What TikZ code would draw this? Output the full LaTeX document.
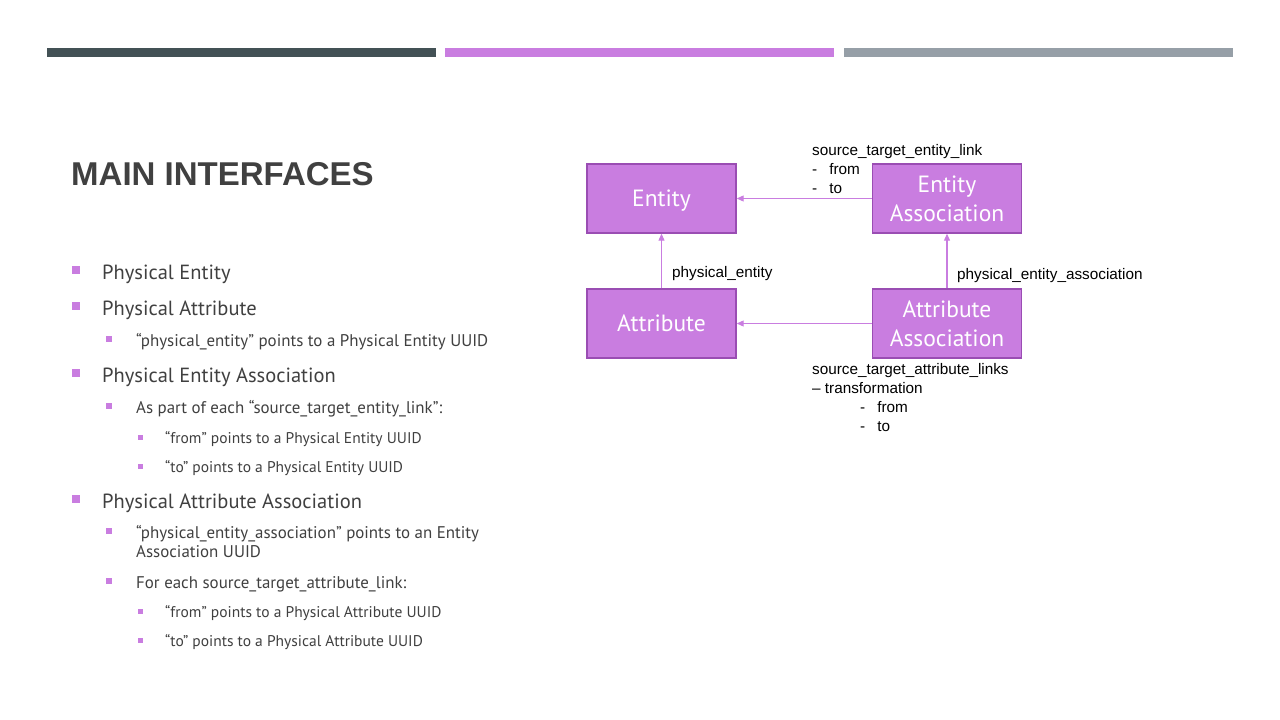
\documentclass[tikz,border=0pt]{standalone}
\usepackage{fontspec}
\setmainfont{PT Sans}
\newfontfamily\labelfont{Liberation Sans}
\usetikzlibrary{arrows.meta}
\definecolor{barDark}{HTML}{435155}
\definecolor{barPurple}{HTML}{C97DE0}
\definecolor{barGrey}{HTML}{969FA7}
\definecolor{boxFill}{HTML}{C97DE0}
\definecolor{boxLine}{HTML}{9A4DB3}
\definecolor{bodyText}{HTML}{404040}
\definecolor{bulletPurple}{HTML}{C97DE0}
\tikzset{
  titletext/.style={anchor=base west, inner sep=0pt, text=bodyText,
    font=\labelfont\fontsize{33}{40}\selectfont\bfseries},
  lvlone/.style={anchor=base west, inner sep=0pt, text=bodyText,
    font=\fontsize{20.5}{24}\selectfont},
  lvltwo/.style={anchor=base west, inner sep=0pt, text=bodyText,
    font=\fontsize{16.9}{19.5}\selectfont},
  lvlthree/.style={anchor=base west, inner sep=0pt, text=bodyText,
    font=\fontsize{15.5}{17}\selectfont},
  mark one/.style={fill=bulletPurple, minimum size=8pt, inner sep=0pt},
  mark two/.style={fill=bulletPurple, minimum size=6pt, inner sep=0pt},
  mark three/.style={fill=bulletPurple, minimum size=5pt, inner sep=0pt},
  entitybox/.style={draw=boxLine, line width=1.4pt, fill=boxFill, text=white,
    minimum width=149pt, minimum height=69pt, inner sep=0pt, align=center,
    font=\fontsize{23.5}{29}\selectfont},
  oneline/.style={text depth=0pt},
  link/.style={draw=boxFill, line width=1.1pt, -{Triangle[length=7pt,width=6pt]}},
  linklabel/.style={anchor=base west, inner sep=0pt, text=black,
    font=\labelfont\fontsize{15.3}{19}\selectfont},
}
\begin{document}
\begin{tikzpicture}[x=1pt,y=-1pt]
  \useasboundingbox (0,0) rectangle (1280,720);
  \fill[white] (0,0) rectangle (1280,720);

  % header bars
  \fill[barDark]   (47,48)  rectangle (436,57);
  \fill[barPurple] (445,48) rectangle (834,57);
  \fill[barGrey]   (844,48) rectangle (1233,57);

  % heading
  \node[titletext] (title) at (71,185) {MAIN INTERFACES};

  % bullet list
  \node[mark one] (m1) at (76,270) {};
  \node[lvlone] (t1) at (102,279) {Physical Entity};
  \node[mark one] (m2) at (76,306) {};
  \node[lvlone] (t2) at (102,315) {Physical Attribute};
  \node[mark two] (m21) at (109,339) {};
  \node[lvltwo] (t21) at (136,346) {“physical\_entity” points to a Physical Entity UUID};
  \node[mark one] (m3) at (76,373) {};
  \node[lvlone] (t3) at (102,382) {Physical Entity Association};
  \node[mark two] (m31) at (109,406) {};
  \node[lvltwo] (t31) at (136,413) {As part of each “source\_target\_entity\_link”:};
  \node[mark three] (m311) at (140.5,437) {};
  \node[lvlthree] (t311) at (165,443) {“from” points to a Physical Entity UUID};
  \node[mark three] (m312) at (140.5,466) {};
  \node[lvlthree] (t312) at (165,472) {“to” points to a Physical Entity UUID};
  \node[mark one] (m4) at (76,499) {};
  \node[lvlone] (t4) at (102,508) {Physical Attribute Association};
  \node[mark two] (m41) at (109,531) {};
  \node[lvltwo] (t41) at (136,538) {“physical\_entity\_association” points to an Entity};
  \node[lvltwo] (t41b) at (136,557) {Association UUID};
  \node[mark two] (m42) at (109,581) {};
  \node[lvltwo] (t42) at (136,588) {For each source\_target\_attribute\_link:};
  \node[mark three] (m421) at (140.5,611) {};
  \node[lvlthree] (t421) at (165,617) {“from” points to a Physical Attribute UUID};
  \node[mark three] (m422) at (140.5,640) {};
  \node[lvlthree] (t422) at (165,646) {“to” points to a Physical Attribute UUID};

  % diagram boxes
  \node[entitybox, oneline] (entity)  at (661.5,198.5) {Entity};
  \node[entitybox] (entassoc) at (947,198.5) {Entity\\Association};
  \node[entitybox, oneline] (attr)    at (661.5,323.5) {Attribute};
  \node[entitybox] (attrassoc) at (947,323.5) {Attribute\\Association};

  % connectors
  \draw[link] (entassoc.west) -- (entity.east);
  \draw[link] (attrassoc.west) -- (attr.east);
  \draw[link] (attr.north) -- (entity.south);
  \draw[link] (attrassoc.north) -- (entassoc.south);

  % connector labels
  \node[linklabel] (lbA) at (812,155) {source\_target\_entity\_link};
  \node[linklabel] (lbA1) at (812,174) {-\hspace{12pt}from};
  \node[linklabel] (lbA2) at (812,193) {-\hspace{12pt}to};
  \node[linklabel] (lbB) at (672,277) {physical\_entity};
  \node[linklabel] (lbC) at (957,279) {physical\_entity\_association};
  \node[linklabel] (lbD) at (812,374) {source\_target\_attribute\_links};
  \node[linklabel] (lbD1) at (812,393) {– transformation};
  \node[linklabel] (lbD2) at (860,412) {-\hspace{12pt}from};
  \node[linklabel] (lbD3) at (860,431) {-\hspace{12pt}to};
\end{tikzpicture}
\end{document}
